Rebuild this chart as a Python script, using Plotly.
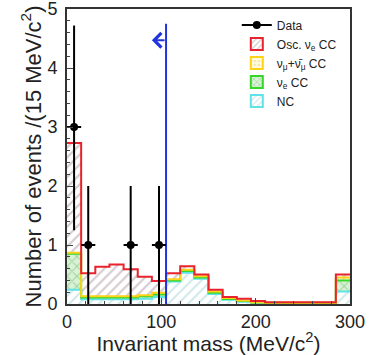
import numpy as np
import plotly.graph_objs as go

# 15 MeV/c^2 bins from 0 to 300
bin_edges = np.arange(0, 301, 15)
bin_centers = bin_edges[:-1] + 7.5

# stacked MC components (per-bin contributions)
nc = [0.24, 0.08, 0.08, 0.08, 0.08, 0.09, 0.12, 0.38, 0.53, 0.43,
      0.17, 0.07, 0.04, 0.02, 0.01, 0.01, 0.01, 0.01, 0.01, 0.21]
nue_cc = [0.61, 0.03, 0.03, 0.03, 0.03, 0.04, 0.04, 0.02, 0.03, 0.02,
          0.02, 0.015, 0.01, 0.005, 0.005, 0.005, 0.005, 0.005, 0.005, 0.19]
numu_cc = [0.02, 0.02, 0.02, 0.02, 0.02, 0.02, 0.03, 0.02, 0.02, 0.02,
           0.02, 0.015, 0.01, 0.005, 0.005, 0.005, 0.005, 0.005, 0.005, 0.05]
osc_nue = [1.86, 0.39, 0.50, 0.54, 0.46, 0.31, 0.20, 0.10, 0.06, 0.03,
           0.03, 0.02, 0.03, 0.02, 0.01, 0.01, 0.01, 0.01, 0.01, 0.05]

# data points
data_x = [7.5, 22.5, 67.5, 97.5]
data_y = [3, 1, 1, 1]
data_err_up = [1.72, 1.0, 1.0, 1.0]
data_err_down = [1.75, 1.0, 1.0, 1.0]

cut_value = 105
cut_top = 4.75
arrow_y = 4.47
arrow_end = 90

components = [
    # name, values, line colour, pattern shape, pattern colour, bg colour
    ("NC", nc, "#5fe3e6", "/", "#a3d3d6", "white"),
    ("ν<sub>e</sub> CC", nue_cc, "#37d62a", "x", "#6cb86a", "#d9f2d5"),
    ("ν<sub>μ</sub>+ν\u0304<sub>μ</sub> CC", numu_cc, "#ffd21a", ".", "#e7d36a", "#fffbe0"),
    ("Osc. ν<sub>e</sub> CC", osc_nue, "#e8232d", "/", "#a8939f", "white"),
]

fig = go.Figure()

# hatched stacked fills
for name, vals, lc, shape, fg, bg in components:
    fig.add_trace(go.Bar(
        x=bin_centers, y=vals, width=15,
        marker=dict(color=bg, line_width=0,
                    pattern=dict(shape=shape, fgcolor=fg, bgcolor=bg, size=7, solidity=0.3)),
        showlegend=False, hoverinfo="skip"
    ))

# step outlines on top of each stacked layer
cum = np.zeros(len(nc))
for name, vals, lc, shape, fg, bg in components:
    cum = cum + np.array(vals)
    fig.add_trace(go.Scatter(
        x=bin_edges, y=np.append(cum, cum[-1]), mode="lines",
        line=dict(color=lc, width=2, shape="hv"), showlegend=False
    ))

# selection cut
fig.add_trace(go.Scatter(x=[cut_value, cut_value], y=[0, cut_top], mode="lines",
                         line=dict(color="#2233dd", width=2), showlegend=False))
fig.add_annotation(x=arrow_end, y=arrow_y, ax=cut_value, ay=arrow_y,
                   xref="x", yref="y", axref="x", ayref="y", text="",
                   showarrow=True, arrowhead=4, arrowsize=1.4, arrowwidth=2,
                   arrowcolor="#2233dd")

# data
fig.add_trace(go.Scatter(
    x=data_x, y=data_y, mode="markers",
    marker=dict(color="black", size=8),
    error_y=dict(type="data", symmetric=False, array=data_err_up, arrayminus=data_err_down,
                 color="black", thickness=2, width=0),
    error_x=dict(type="constant", value=7.5, color="black", thickness=2, width=0),
    showlegend=False
))

# legend entries
fig.add_trace(go.Scatter(x=[None], y=[None], mode="lines+markers", name="Data",
                         line=dict(color="black", width=2), marker=dict(color="black", size=8)))
for name, vals, lc, shape, fg, bg in components[::-1]:
    fig.add_trace(go.Bar(
        x=[-100], y=[0], name=name,
        marker=dict(color=bg, line=dict(color=lc, width=2),
                    pattern=dict(shape=shape, fgcolor=fg, bgcolor=bg, size=5, solidity=0.3))
    ))

fig.update_layout(
    width=376, height=355,
    margin=dict(l=67, r=26, t=9, b=51, autoexpand=False),
    barmode="stack", bargap=0,
    plot_bgcolor="white", paper_bgcolor="white",
    font=dict(family="Liberation Sans, Arial, sans-serif", color="#222222"),
    legend=dict(x=0.6, y=0.995, xanchor="left", yanchor="top",
                bgcolor="rgba(0,0,0,0)", font=dict(size=12), traceorder="normal",
                tracegroupgap=0, itemwidth=30),
    xaxis=dict(range=[0, 300], tickvals=[0, 100, 200, 300], ticks="inside", ticklen=6,
               minor=dict(dtick=20, ticks="inside", ticklen=3), automargin=False,
               showline=True, mirror=True, linecolor="#333333", linewidth=2,
               showgrid=False, zeroline=False, tickfont=dict(size=18),
               title=dict(text="Invariant mass (MeV/c<sup>2</sup>)", font=dict(size=21), standoff=2)),
    yaxis=dict(range=[0, 5], tickvals=[0, 1, 2, 3, 4, 5], ticks="inside", ticklen=6,
               ticklabeloverflow="allow", automargin=False, ticklabelstandoff=4,
               minor=dict(dtick=0.2, ticks="inside", ticklen=3),
               showline=True, mirror=True, linecolor="#333333", linewidth=2,
               showgrid=False, zeroline=False, tickfont=dict(size=18),
               title=dict(text="Number of events /(15 MeV/c<sup>2</sup>)", font=dict(size=22), standoff=0)),
)

# drop the browser's default page margin so the figure sits at the top-left corner
fig.write_html("out.html", config={"displayModeBar": False},
               post_script="document.body.style.margin='0';")
